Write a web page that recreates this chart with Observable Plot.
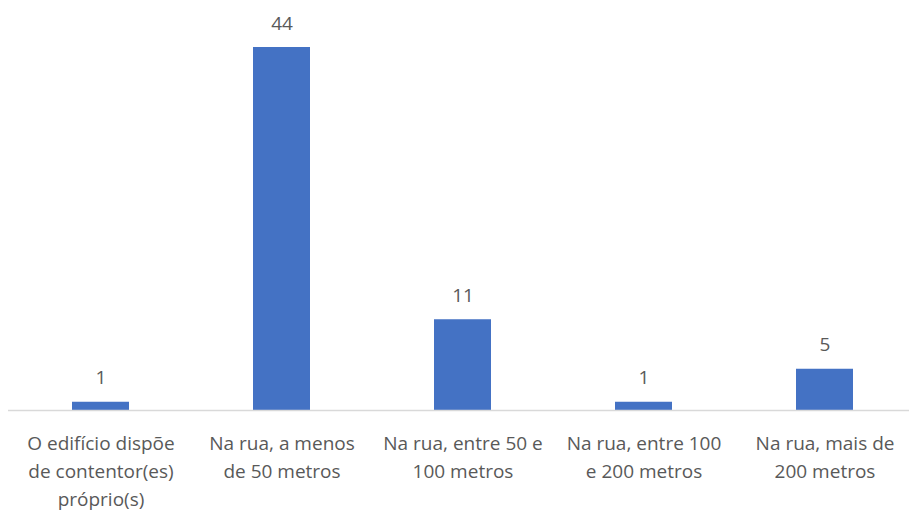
<!DOCTYPE html>
<html>
<head>
<meta charset="utf-8">
<script src="https://cdn.jsdelivr.net/npm/d3@7"></script>
<script src="https://cdn.jsdelivr.net/npm/@observablehq/plot@0.6"></script>
<style>
  html, body { margin: 0; padding: 0; background: #fff; }
  #chart svg { display: block; }
</style>
</head>
<body>
<div id="chart"></div>
<script>
// Where the building's waste containers are located
const categories = [
  "O edifício dispõe\nde contentor(es)\npróprio(s)",
  "Na rua, a menos\nde 50 metros",
  "Na rua, entre 50 e\n100 metros",
  "Na rua, entre 100\ne 200 metros",
  "Na rua, mais de\n200 metros"
];
const counts = [1, 44, 11, 1, 5];

const data = categories.map((c, i) => ({category: c, count: counts[i]}));

const font = "'Open Sans', sans-serif";
const textColor = "#595959";

const chart = Plot.plot({
  width: 909,
  height: 511,
  marginTop: 47,
  marginBottom: 101,
  marginLeft: 8,
  marginRight: 0,
  style: {fontFamily: font, background: "#fff"},
  x: {domain: categories, range: [8, 917], paddingInner: 0.686, paddingOuter: 0.343, label: null},
  y: {domain: [0, 44], axis: null},
  marks: [
    Plot.barY(data, {x: "category", y: "count", fill: "#4472C4"}),
    Plot.ruleY([0], {stroke: "#D9D9D9", strokeWidth: 1.5}),
    Plot.text(data, {
      x: "category", y: "count", text: d => String(d.count),
      lineAnchor: "bottom", dy: -18, fontSize: 19, fill: textColor
    }),
    Plot.axisX({
      tickSize: 0, tickPadding: 20, fontSize: 19, lineHeight: 1.47,
      fill: textColor, label: null, textOverflow: null
    })
  ]
});

document.getElementById("chart").append(chart);
</script>
</body>
</html>
